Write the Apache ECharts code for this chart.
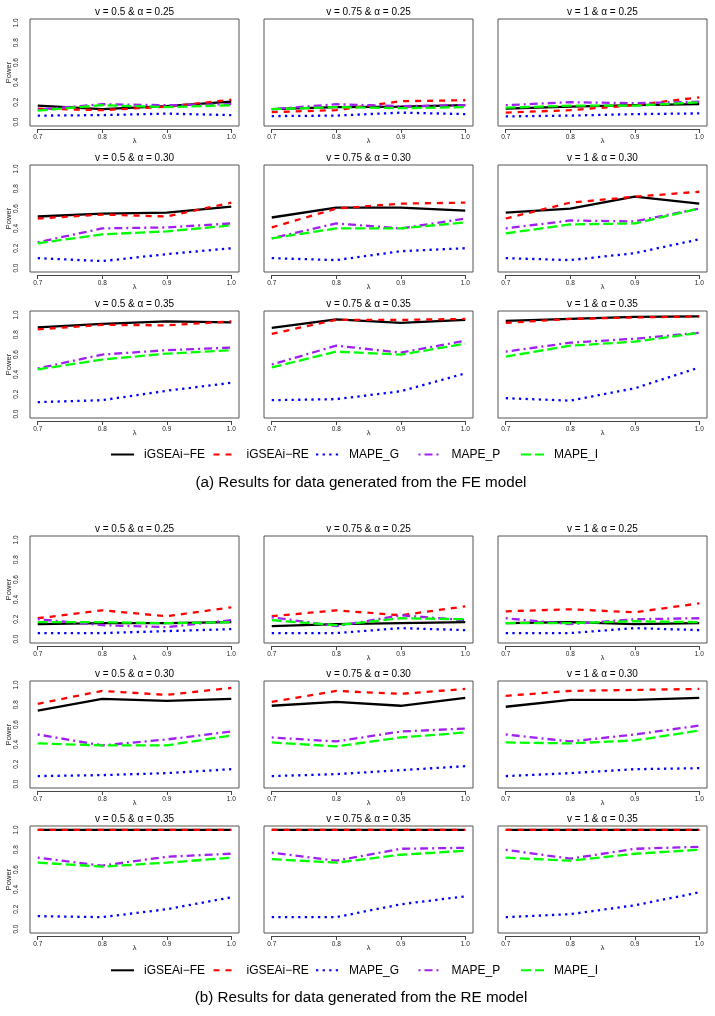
<!DOCTYPE html>
<html><head><meta charset="utf-8">
<script src="https://cdn.jsdelivr.net/npm/echarts@6/dist/echarts.min.js"></script>
<style>html,body{margin:0;padding:0;background:#fff}#c{width:715px;height:1016px}</style>
</head><body><div id="c"></div>
<script>
// ---------------- data ----------------
const lambda = [0.7, 0.8, 0.9, 1.0];
const methods = ['iGSEAi\u2212FE', 'iGSEAi\u2212RE', 'MAPE_G', 'MAPE_P', 'MAPE_I'];
const nuLabels = ['0.5', '0.75', '1'];
const alphaLabels = ['0.25', '0.30', '0.35'];
const captions = ['(a) Results for data generated from the FE model',
                  '(b) Results for data generated from the RE model'];

// (a) FE model — rows: iGSEAi-FE, iGSEAi-RE, MAPE_G, MAPE_P, MAPE_I
const FE_a25_v05  = [[0.165,0.13,0.16,0.205],[0.135,0.12,0.155,0.225],[0.065,0.07,0.085,0.07],[0.125,0.18,0.17,0.18],[0.115,0.17,0.15,0.17]];
const FE_a25_v075 = [[0.13,0.15,0.155,0.17],[0.10,0.12,0.21,0.22],[0.06,0.065,0.095,0.08],[0.13,0.18,0.16,0.17],[0.13,0.15,0.14,0.15]];
const FE_a25_v1   = [[0.135,0.155,0.17,0.18],[0.095,0.12,0.17,0.25],[0.057,0.065,0.08,0.087],[0.17,0.20,0.19,0.205],[0.145,0.165,0.165,0.20]];
const FE_a30_v05  = [[0.52,0.55,0.56,0.62],[0.50,0.54,0.52,0.66],[0.10,0.07,0.14,0.20],[0.26,0.40,0.41,0.45],[0.25,0.34,0.37,0.43]];
const FE_a30_v075 = [[0.51,0.61,0.61,0.58],[0.41,0.60,0.65,0.66],[0.10,0.08,0.17,0.20],[0.30,0.45,0.40,0.50],[0.30,0.40,0.40,0.46]];
const FE_a30_v1   = [[0.56,0.60,0.72,0.65],[0.50,0.66,0.72,0.77],[0.10,0.08,0.15,0.29],[0.40,0.48,0.47,0.60],[0.35,0.44,0.45,0.60]];
const FE_a35_v05  = [[0.875,0.91,0.935,0.925],[0.855,0.90,0.895,0.935],[0.12,0.14,0.235,0.315],[0.46,0.60,0.645,0.67],[0.45,0.55,0.61,0.645]];
const FE_a35_v075 = [[0.87,0.955,0.92,0.95],[0.81,0.95,0.95,0.96],[0.14,0.15,0.23,0.41],[0.50,0.69,0.62,0.74],[0.47,0.63,0.60,0.71]];
const FE_a35_v1   = [[0.94,0.96,0.98,0.985],[0.92,0.96,0.975,0.985],[0.16,0.135,0.26,0.47],[0.63,0.72,0.76,0.82],[0.58,0.69,0.73,0.82]];

// (b) RE model
const RE_a25_v05  = [[0.15,0.16,0.16,0.17],[0.21,0.29,0.23,0.32],[0.06,0.06,0.08,0.10],[0.20,0.14,0.12,0.19],[0.17,0.17,0.16,0.17]];
const RE_a25_v075 = [[0.13,0.15,0.16,0.17],[0.23,0.29,0.24,0.33],[0.06,0.06,0.11,0.09],[0.22,0.13,0.24,0.19],[0.19,0.14,0.21,0.20]];
const RE_a25_v1   = [[0.16,0.17,0.15,0.16],[0.28,0.30,0.27,0.36],[0.06,0.06,0.11,0.09],[0.21,0.15,0.20,0.21],[0.16,0.16,0.18,0.17]];
const RE_a30_v05  = [[0.74,0.86,0.84,0.86],[0.81,0.94,0.90,0.97],[0.08,0.09,0.11,0.15],[0.50,0.39,0.45,0.53],[0.41,0.39,0.39,0.49]];
const RE_a30_v075 = [[0.79,0.83,0.79,0.87],[0.83,0.94,0.91,0.96],[0.08,0.10,0.14,0.18],[0.47,0.43,0.53,0.56],[0.42,0.38,0.47,0.52]];
const RE_a30_v1   = [[0.78,0.85,0.85,0.87],[0.89,0.94,0.95,0.96],[0.08,0.11,0.15,0.16],[0.50,0.43,0.50,0.59],[0.42,0.41,0.44,0.54]];
const RE_a35_v05  = [[1,1,1,1],[1,1,1,1],[0.13,0.12,0.20,0.32],[0.72,0.64,0.73,0.76],[0.67,0.63,0.67,0.72]];
const RE_a35_v075 = [[1,1,1,1],[1,1,1,1],[0.12,0.12,0.25,0.33],[0.77,0.69,0.81,0.82],[0.705,0.67,0.75,0.79]];
const RE_a35_v1   = [[1,1,1,1],[1,1,1,1],[0.12,0.15,0.24,0.37],[0.80,0.71,0.81,0.83],[0.72,0.69,0.76,0.80]];

const groups = [
  [[FE_a25_v05, FE_a25_v075, FE_a25_v1], [FE_a30_v05, FE_a30_v075, FE_a30_v1], [FE_a35_v05, FE_a35_v075, FE_a35_v1]],
  [[RE_a25_v05, RE_a25_v075, RE_a25_v1], [RE_a30_v05, RE_a30_v075, RE_a30_v1], [RE_a35_v05, RE_a35_v075, RE_a35_v1]]
];

// ---------------- layout & style ----------------
const FONT = '"Liberation Sans", Arial, Helvetica, sans-serif';
const colLeft = [30, 264, 498];
const boxW = 209, boxH = 107;
const rowTop = [[19, 165, 311], [536, 681, 826]];
const legendTop = [448.5, 964.3];
const legendLeft = 110, legendPitch = 102.5;
const captionTop = [474.5, 989.5];
const padX = 0.04 * boxW / 1.08, padY = 0.04 * boxH / 1.08;
const LW = 2.3;
const styles = [
  { color: '#000000', type: 'solid' },
  { color: '#FF0000', type: [6, 6] },
  { color: '#0000FF', type: [2.3, 4.3] },
  { color: '#A020F0', type: [2, 4, 8, 4] },
  { color: '#00FF00', type: [10, 4] }
];

const grid = [], xAxis = [], yAxis = [], series = [], title = [], legend = [];
groups.forEach((rows, g) => {
  rows.forEach((cols, r) => {
    cols.forEach((panel, c) => {
      const L = colLeft[c], T = rowTop[g][r];
      const bi = grid.length;
      grid.push({ left: L, top: T, width: boxW, height: boxH, show: true, borderColor: '#555', borderWidth: 1,
                  backgroundColor: 'transparent', containLabel: false, outerBoundsMode: 'none' });
      xAxis.push({ gridIndex: bi, type: 'value', show: false, min: 0, max: 1 });
      yAxis.push({ gridIndex: bi, type: 'value', show: false, min: 0, max: 1 });
      const di = grid.length;
      grid.push({ left: L + padX, top: T + padY, width: boxW - 2 * padX, height: boxH - 2 * padY, show: false,
                  containLabel: false, outerBoundsMode: 'none' });
      xAxis.push({
        gridIndex: di, type: 'value', min: 0.7, max: 1.0, interval: 0.1, position: 'bottom', offset: padY + 3,
        axisLine: { show: true, onZero: false, lineStyle: { color: '#444', width: 1 } },
        axisTick: { show: true, length: 4, inside: false, lineStyle: { color: '#444', width: 1 } },
        splitLine: { show: false },
        axisLabel: { fontSize: 6.5, color: '#222', margin: 5, fontFamily: FONT, formatter: v => v.toFixed(1) },
        name: '\u03bb', nameLocation: 'middle', nameGap: 8, nameMoveOverlap: false,
        nameTextStyle: { fontSize: 7.5, color: '#222', fontFamily: FONT }
      });
      yAxis.push({
        gridIndex: di, type: 'value', min: 0, max: 1, interval: 0.2, show: c === 0,
        axisLine: { show: false, onZero: false }, axisTick: { show: false }, splitLine: { show: false },
        axisLabel: { rotate: 90, fontSize: 6.5, color: '#222', margin: 18, fontFamily: FONT, formatter: v => v.toFixed(1) },
        name: c === 0 ? 'Power' : '', nameLocation: 'middle', nameRotate: 90, nameGap: 24.5, nameMoveOverlap: false,
        nameTextStyle: { fontSize: 7.5, color: '#222', fontFamily: FONT }
      });
      title.push({
        text: 'v = ' + nuLabels[c] + ' & \u03b1 = ' + alphaLabels[r],
        left: L + boxW / 2, top: T - 12.5, textAlign: 'center', padding: 0,
        textStyle: { fontSize: 10, fontWeight: 'normal', color: '#000', lineHeight: 12, fontFamily: FONT }
      });
      panel.forEach((vals, m) => {
        series.push({
          type: 'line', name: methods[m], xAxisIndex: di, yAxisIndex: di,
          data: lambda.map((x, i) => [x, vals[i]]),
          symbol: 'none', showSymbol: false, clip: false, silent: true, animation: false,
          color: styles[m].color,
          itemStyle: { color: styles[m].color },
          lineStyle: { color: styles[m].color, type: styles[m].type, width: LW },
          emphasis: { disabled: true }
        });
      });
    });
  });
  methods.forEach((name, m) => {
    legend.push({
      data: [name], left: legendLeft + m * legendPitch, top: legendTop[g], orient: 'horizontal', padding: 0,
      itemWidth: 23, itemHeight: 10, itemGap: 0, selectedMode: false,
      itemStyle: { opacity: 0 },
      lineStyle: { opacity: 1 },
      textStyle: { fontSize: 12, color: '#000', fontFamily: FONT, padding: [0, 0, 0, 5] }
    });
  });
  title.push({
    text: captions[g], left: 361, top: captionTop[g], textAlign: 'center', padding: 0,
    textStyle: { fontSize: 15.2, fontWeight: 'normal', color: '#000', lineHeight: 17, fontFamily: FONT }
  });
});

const chart = echarts.init(document.getElementById('c'), null, { renderer: 'canvas', width: 715, height: 1016 });
chart.setOption({
  backgroundColor: '#ffffff', animation: false,
  textStyle: { fontFamily: FONT },
  title, legend, grid, xAxis, yAxis, series
});
</script>
</body></html>
